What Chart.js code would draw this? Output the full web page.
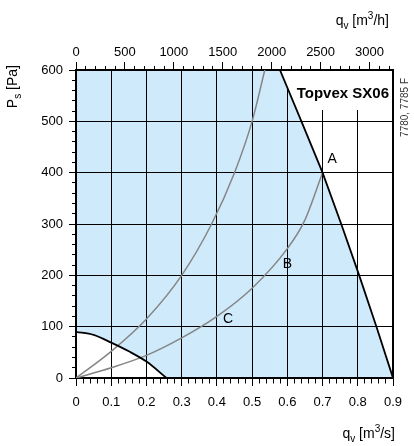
<!DOCTYPE html>
<html>
<head>
<meta charset="utf-8">
<script src="https://cdn.jsdelivr.net/npm/chart.js@4.4.1/dist/chart.umd.min.js"></script>
<style>
  html, body { margin: 0; padding: 0; background: #fff; }
  canvas { display: block; }
</style>
</head>
<body>
<canvas id="chart" width="414" height="446"></canvas>
<script>
// fan working range: outer limit line and the lower-left minimum line
const maxCurveFlow = [0, 0.579, 0.64, 0.70, 0.753, 0.804, 0.853, 0.90];
const maxCurvePressure = [600, 600, 500, 400, 300, 200, 100, 0];
const minCurveFlow = [0, 0.05, 0.10, 0.15, 0.20, 0.257];
const minCurvePressure = [90, 84, 69, 52, 32, 0];

// grey system curves
const steepFlow = [0, 0.1, 0.2, 0.3, 0.385, 0.45, 0.5, 0.536];
const steepPressure = [0, 52, 115, 200, 300, 400, 500, 600];
const shallowFlow = [0, 0.1, 0.2, 0.3, 0.4, 0.5, 0.6, 0.648, 0.7];
const shallowPressure = [0, 20, 44, 78, 120, 175, 252, 305, 400];

// curve letters
const markNames = ['A', 'B', 'C'];
const markFlow = [0.727, 0.6, 0.432];
const markPressure = [426, 221, 114];

// axes
const flowMax = 0.9;                 // m3/s, bottom axis
const flowHourMax = flowMax * 3600;  // m3/h, top axis
const pressureMax = 600;             // Pa
const chartTitle = 'Topvex SX06';
const drawingRef = '7780, 7785 F';

const FONT = '"Liberation Sans", Arial, Helvetica, sans-serif';
const BLUE = '#cfeafb';
const GREY = '#858585';

Chart.defaults.font.family = FONT;
Chart.defaults.color = '#000';

function toPoints(xs, ys) {
    return xs.map((x, i) => ({ x: x, y: ys[i] }));
}

function isMajor(value, step) {
    const r = value / step;
    return Math.abs(r - Math.round(r)) < 1e-6;
}

// grid/tick options: one tick every minor step, long tick + grid line on the major ones
function gridFor(majorStep, majorLen, minorLen, fromAxis, onChart) {
    return {
        drawOnChartArea: onChart,
        color: c => (c.tick && isMajor(c.tick.value, majorStep)) ? '#000' : 'rgba(0,0,0,0)',
        lineWidth: 1,
        tickColor: '#000',
        tickWidth: 1,
        tickLength: majorLen,
        tickBorderDash: c => {
            if (c.tick && isMajor(c.tick.value, majorStep)) return [];
            return fromAxis ? [minorLen, 60] : [0, majorLen - minorLen, minorLen, 60];
        }
    };
}

// text with sub/superscript parts, drawn at (x, y) baseline, right aligned
function drawRich(ctx, parts, x, y, size) {
    const small = Math.round(size * 0.72);
    let total = 0;
    parts.forEach(p => {
        ctx.font = (p.sub || p.sup ? small : size) + 'px ' + FONT;
        total += ctx.measureText(p.t).width;
    });
    let cx = x - total;
    parts.forEach(p => {
        ctx.font = (p.sub || p.sup ? small : size) + 'px ' + FONT;
        const dy = p.sub ? size * 0.28 : (p.sup ? -size * 0.42 : 0);
        ctx.fillText(p.t, cx, y + dy);
        cx += ctx.measureText(p.t).width;
    });
}

const decorations = {
    id: 'decorations',
    // white label box behind the title, only where the chart is outside the fan range
    beforeDatasetsDraw(chart) {
        const ctx = chart.ctx;
        const area = chart.chartArea;
        const xs = chart.scales.x, ys = chart.scales.y;
        ctx.save();
        ctx.font = 'bold 15px ' + FONT;
        const titleW = ctx.measureText(chartTitle).width;
        const boxLeft = area.right - 4 - titleW - 10;
        ctx.beginPath();
        ctx.rect(boxLeft, area.top + 1, area.right - 1 - boxLeft, 39);
        ctx.clip();
        ctx.beginPath();
        ctx.moveTo(area.right, area.top);
        maxCurveFlow.forEach((q, i) => ctx.lineTo(xs.getPixelForValue(q), ys.getPixelForValue(maxCurvePressure[i])));
        ctx.lineTo(area.right, area.bottom);
        ctx.closePath();
        ctx.clip();
        ctx.fillStyle = '#fff';
        ctx.fillRect(boxLeft, area.top, area.right - boxLeft, 40);
        ctx.restore();
    },
    afterDraw(chart) {
        const ctx = chart.ctx;
        const area = chart.chartArea;
        const xs = chart.scales.x, ys = chart.scales.y;
        ctx.save();
        ctx.fillStyle = '#000';
        ctx.textBaseline = 'alphabetic';
        ctx.textAlign = 'left';

        // title
        ctx.font = 'bold 15px ' + FONT;
        ctx.textAlign = 'right';
        ctx.fillText(chartTitle, area.right - 4, area.top + 28);
        ctx.textAlign = 'left';

        // axis titles
        drawRich(ctx, [{ t: 'q' }, { t: 'v', sub: true }, { t: ' [m' }, { t: '3', sup: true }, { t: '/h]' }], 389, 25, 14);
        drawRich(ctx, [{ t: 'q' }, { t: 'v', sub: true }, { t: ' [m' }, { t: '3', sup: true }, { t: '/s]' }], 395, 438, 14);

        ctx.save();
        ctx.translate(17, 65);
        ctx.rotate(-Math.PI / 2);
        drawRich(ctx, [{ t: 'P' }, { t: 's', sub: true }, { t: ' [Pa]' }], 0, 0, 14);
        ctx.restore();

        // drawing reference on the right edge
        ctx.save();
        ctx.translate(408, 78);
        ctx.rotate(-Math.PI / 2);
        ctx.fillStyle = '#333';
        ctx.font = '10px ' + FONT;
        ctx.textAlign = 'right';
        ctx.fillText(drawingRef, 0, 0);
        ctx.restore();

        // curve letters
        ctx.font = '14px ' + FONT;
        ctx.textAlign = 'center';
        ctx.textBaseline = 'middle';
        markNames.forEach((name, i) => {
            ctx.fillText(name, xs.getPixelForValue(markFlow[i]), ys.getPixelForValue(markPressure[i]));
        });
        ctx.restore();
    }
};

new Chart(document.getElementById('chart'), {
    type: 'line',
    data: {
        datasets: [
            {
                label: 'min',
                data: toPoints(minCurveFlow, minCurvePressure),
                borderColor: '#000',
                borderWidth: 1.8,
                backgroundColor: '#fff',
                fill: 'origin',
                cubicInterpolationMode: 'monotone',
                pointRadius: 0
            },
            {
                label: 'max',
                data: toPoints(maxCurveFlow, maxCurvePressure),
                borderColor: '#000',
                borderWidth: 1.8,
                backgroundColor: BLUE,
                fill: 'origin',
                tension: 0,
                pointRadius: 0,
                segment: {
                    borderColor: c => c.p0DataIndex === 0 ? 'rgba(0,0,0,0)' : '#000'
                }
            },
            {
                label: 'steep',
                data: toPoints(steepFlow, steepPressure),
                borderColor: GREY,
                borderWidth: 1.5,
                fill: false,
                cubicInterpolationMode: 'monotone',
                pointRadius: 0
            },
            {
                label: 'shallow',
                data: toPoints(shallowFlow, shallowPressure),
                borderColor: GREY,
                borderWidth: 1.5,
                fill: false,
                cubicInterpolationMode: 'monotone',
                pointRadius: 0
            }
        ]
    },
    options: {
        responsive: false,
        animation: false,
        events: [],
        layout: { padding: 0 },
        plugins: {
            legend: { display: false },
            tooltip: { enabled: false },
            filler: { drawTime: 'beforeDraw' }
        },
        scales: {
            x: {
                type: 'linear',
                position: 'bottom',
                min: 0,
                max: flowMax,
                afterFit: s => { s.height = 68; },
                border: { display: true, color: '#000', width: 1.5 },
                grid: gridFor(0.1, 8, 5, true, true),
                ticks: {
                    stepSize: 0.02,
                    autoSkip: false,
                    maxRotation: 0,
                    padding: 9,
                    font: { size: 13 },
                    callback: v => isMajor(v, 0.1) ? String(Math.round(v * 10) / 10) : ''
                }
            },
            x2: {
                type: 'linear',
                position: 'top',
                min: 0,
                max: flowHourMax,
                afterFit: s => { s.height = 70; },
                border: { display: true, color: '#000', width: 1.5 },
                grid: gridFor(500, 8, 4, false, false),
                ticks: {
                    stepSize: 100,
                    includeBounds: false,
                    autoSkip: false,
                    maxRotation: 0,
                    padding: 2,
                    font: { size: 13 },
                    callback: v => isMajor(v, 500) ? String(v) : ''
                }
            },
            y: {
                type: 'linear',
                position: 'left',
                min: 0,
                max: pressureMax,
                afterFit: s => { s.width = 76; },
                border: { display: true, color: '#000', width: 1.5 },
                grid: gridFor(100, 7, 4, false, true),
                ticks: {
                    stepSize: 20,
                    autoSkip: false,
                    padding: 6,
                    font: { size: 13 },
                    callback: v => isMajor(v, 100) ? String(v) : ''
                }
            },
            y2: {
                type: 'linear',
                position: 'right',
                min: 0,
                max: pressureMax,
                afterFit: s => { s.width = 21; },
                border: { display: true, color: '#000', width: 1.5 },
                grid: { drawOnChartArea: false, drawTicks: false },
                ticks: { display: false }
            }
        }
    },
    plugins: [decorations]
});
</script>
</body>
</html>
